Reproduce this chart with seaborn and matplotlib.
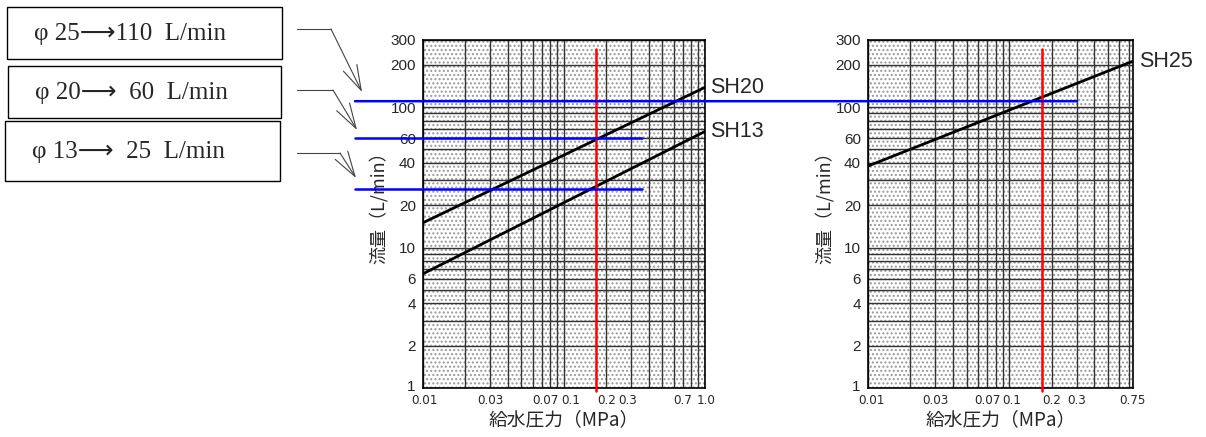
import numpy as np
import pandas as pd
import seaborn as sns
import matplotlib.pyplot as plt
from matplotlib.patches import Rectangle, ConnectionPatch
from matplotlib.ticker import FixedLocator
from matplotlib.transforms import ScaledTranslation

# data
pressure_13 = [0.01, 1.0]
flow_13 = [6.5, 67]
pressure_20 = [0.01, 1.0]
flow_20 = [15, 138]
pressure_25 = [0.01, 0.75]
flow_25 = [38, 212]

supply_pressure = 0.17
red_top = 260
target_flow = [110, 60, 26]
box_labels = ["φ 25⟶110  L/min", "φ 20⟶\u200760  L/min", "φ 13⟶\u200725  L/min"]

y_ticks = [1, 2, 4, 6, 10, 20, 40, 60, 100, 200, 300]
x_ticks_left = [0.01, 0.03, 0.07, 0.1, 0.2, 0.3, 0.7, 1.0]
x_labels_left = ["0.01", "0.03", "0.07", "0.1", "0.2", "0.3", "0.7", "1.0"]
x_shift_left = [1, 0, 3, 7, 0, -4, 0, 1]  # label nudges in px, as drawn in the original
x_ticks_right = [0.01, 0.03, 0.07, 0.1, 0.2, 0.3, 0.75]
x_labels_right = ["0.01", "0.03", "0.07", "0.1", "0.2", "0.3", "0.75"]
x_shift_right = [3, 0, 0, 2, 0, 0, 0]

sns.set_theme(style="white")
plt.rcParams["font.family"] = ["Noto Sans CJK JP", "DejaVu Sans"]
narrow_font = ["Liberation Sans Narrow", "DejaVu Sans"]


def grid_values(lo, hi):
    vals = []
    for d in [0.01, 0.1, 1, 10, 100]:
        for m in range(1, 10):
            v = round(d * m, 6)
            if lo <= v <= hi:
                vals.append(v)
    return vals


def nudge(fig, label, dx, dy):
    label.set_transform(label.get_transform() + ScaledTranslation(dx / 100, dy / 100, fig.dpi_scale_trans))


def setup_axis(fig, ax, xmax, xticks, xlabels, shifts):
    ax.set_xscale("log")
    ax.set_yscale("log")
    ax.set_xlim(0.01, xmax)
    ax.set_ylim(1, 300)
    # stipple background
    ax.add_patch(Rectangle((0, 0), 1, 1, transform=ax.transAxes, facecolor="white",
                           edgecolor="#9a9a9a", hatch="....", lw=0, zorder=0))
    for x in grid_values(0.01, xmax):
        ax.axvline(x, color="#333333", lw=1.0, zorder=1)
    for y in grid_values(1, 300):
        ax.axhline(y, color="#333333", lw=1.0, zorder=1)
    ax.xaxis.set_major_locator(FixedLocator(xticks))
    ax.xaxis.set_minor_locator(FixedLocator([]))
    ax.yaxis.set_major_locator(FixedLocator(y_ticks))
    ax.yaxis.set_minor_locator(FixedLocator([]))
    ax.set_xticklabels(xlabels, fontsize=9.5, family=narrow_font, stretch="condensed")
    ax.set_yticklabels([str(v) for v in y_ticks], fontsize=11, family="Liberation Sans")
    ax.tick_params(length=0)
    ax.tick_params(axis="x", pad=4)
    ax.tick_params(axis="y", pad=5)
    for lab, dx in zip(ax.get_xticklabels(), shifts):
        nudge(fig, lab, dx, 0)
    # keep the bottom "1" clear of the first x label
    nudge(fig, ax.get_yticklabels()[0], -1, 3)
    for s in ax.spines.values():
        s.set_color("black")
        s.set_linewidth(1.2)
    ax.grid(False)


fig = plt.figure(figsize=(12.06, 4.37), dpi=100)
ax1 = fig.add_axes([0.3507, 0.1121, 0.2338, 0.7964])
ax2 = fig.add_axes([0.7197, 0.1121, 0.2197, 0.7964])

df13 = pd.DataFrame({"p": pressure_13, "q": flow_13})
df20 = pd.DataFrame({"p": pressure_20, "q": flow_20})
df25 = pd.DataFrame({"p": pressure_25, "q": flow_25})
sns.lineplot(data=df13, x="p", y="q", ax=ax1, color="black", lw=2, zorder=3)
sns.lineplot(data=df20, x="p", y="q", ax=ax1, color="black", lw=2, zorder=3)
sns.lineplot(data=df25, x="p", y="q", ax=ax2, color="black", lw=2, zorder=3)

setup_axis(fig, ax1, 1.0, x_ticks_left, x_labels_left, x_shift_left)
setup_axis(fig, ax2, 0.75, x_ticks_right, x_labels_right, x_shift_right)

for ax, lx in ((ax1, -0.124), (ax2, -0.13)):
    ax.set_xlabel("給水圧力（MPa）", fontsize=13.5, labelpad=2)
    ax.set_ylabel("流量（L/min）", fontsize=13)
    ax.yaxis.set_label_coords(lx, 0.53)

sh_font = ["Liberation Sans", "DejaVu Sans"]
ax1.text(1.02, flow_20[-1], "SH20", fontsize=15.5, family=sh_font,
         transform=ax1.get_yaxis_transform(), va="center", ha="left")
ax1.text(1.02, flow_13[-1], "SH13", fontsize=15.5, family=sh_font,
         transform=ax1.get_yaxis_transform(), va="center", ha="left")
ax2.text(1.025, flow_25[-1], "SH25", fontsize=15.5, family=sh_font,
         transform=ax2.get_yaxis_transform(), va="center", ha="left")

# red supply pressure lines
for ax in (ax1, ax2):
    ax.plot([supply_pressure, supply_pressure], [0.95, red_top], color="red",
            lw=1.8, zorder=4, clip_on=False)

# blue target flow lines
x_start = 0.0033
con = ConnectionPatch(xyA=(x_start, target_flow[0]), coordsA=ax1.transData,
                      xyB=(0.3, target_flow[0]), coordsB=ax2.transData,
                      color="blue", lw=1.8, zorder=5)
fig.add_artist(con)
for q in target_flow[1:]:
    ax1.plot([x_start, 0.36], [q, q], color="blue", lw=1.8, zorder=5, clip_on=False)

# boxes and arrows on the left
ov = fig.add_axes([0, 0, 1, 1], facecolor="none")
ov.set_xlim(0, 1206)
ov.set_ylim(437, 0)
ov.axis("off")
boxes = [(7, 7, 275, 52), (8, 66, 273, 52), (5, 121, 275, 60)]
arrows = [((297, 29), (331, 29), (362, 92)),
          ((297, 90), (333, 90), (357, 130)),
          ((297, 153), (340, 153), (356, 178))]
for (bx, by, bw, bh), lab in zip(boxes, box_labels):
    ov.add_patch(Rectangle((bx, by), bw, bh, fill=False, edgecolor="black", lw=1))
    ov.text(bx + 27, by + bh / 2 + 1, lab, fontsize=18,
            family=["Liberation Serif", "DejaVu Sans"], va="center", ha="left")
for p0, p1, p2 in arrows:
    ov.plot([p0[0], p1[0]], [p0[1], p1[1]], color="#444444", lw=0.8)
    ov.annotate("", xy=p2, xytext=p1,
                arrowprops=dict(arrowstyle="->,head_length=1.5,head_width=0.45",
                                color="#444444", lw=0.8, shrinkA=0, shrinkB=0))

fig.savefig("out.png", dpi=100)
